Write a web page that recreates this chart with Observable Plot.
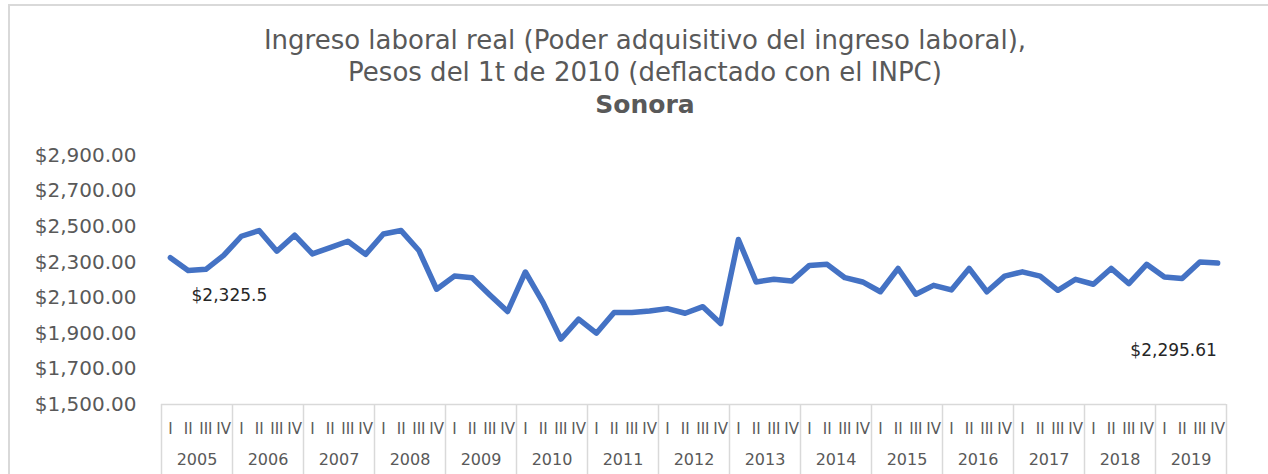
<!DOCTYPE html>
<html>
<head>
<meta charset="utf-8">
<script src="https://cdn.jsdelivr.net/npm/d3@7"></script>
<script src="https://cdn.jsdelivr.net/npm/@observablehq/plot@0.6"></script>
<style>
  html, body { margin: 0; padding: 0; background: #fff; }
  #wrap { position: relative; width: 1268px; height: 474px; overflow: hidden; font-family: "DejaVu Sans", sans-serif; }
  #frame { position: absolute; left: 8px; top: 4px; width: 1268px; height: 480px; border-left: 2px solid #d9d9d9; border-top: 2px solid #d9d9d9; box-sizing: border-box; }
  #title { position: absolute; left: 0; top: 24px; width: 1290px; text-align: center; color: #595959; font-size: 26px; line-height: 32px; }
  #title b { font-size: 25px; }
  #chart { position: absolute; left: 0; top: 0; }
</style>
</head>
<body>
<div id="wrap">
  <div id="frame"></div>
  <div id="chart"></div>
  <div id="title">Ingreso laboral real (Poder adquisitivo del ingreso laboral),<br>Pesos del 1t de 2010 (deflactado con el INPC)<br><b>Sonora</b></div>
</div>
<script>
const years = ["2005","2006","2007","2008","2009","2010","2011","2012","2013","2014","2015","2016","2017","2018","2019"];
const quarters = ["I","II","III","IV"];
const values = [
  2325.5, 2254, 2260, 2338,
  2446, 2478, 2362, 2452,
  2347, 2382, 2418, 2344,
  2459, 2478, 2366, 2148,
  2222, 2213, 2116, 2023,
  2245, 2073, 1868, 1980,
  1901, 2017, 2017, 2026,
  2039, 2013, 2050, 1955,
  2428, 2189, 2204, 2194,
  2282, 2288, 2213, 2189,
  2134, 2265, 2120, 2170,
  2144, 2265, 2134, 2222,
  2246, 2222, 2142, 2204,
  2176, 2265, 2180, 2288,
  2217, 2209, 2301, 2295.61
];
const yTicks = [1500, 1700, 1900, 2100, 2300, 2500, 2700, 2900];
const pointLabels = [
  {index: 0, text: "$2,325.5"},
  {index: 59, text: "$2,295.61"}
];

const data = values.map((v, i) => ({i, v, q: quarters[i % 4], year: years[Math.floor(i / 4)]}));
const yearPos = years.map((y, k) => ({x: k * 4 + 1.5, year: y}));
const bounds = d3.range(0, years.length + 1).map(k => k * 4 - 0.5);
const gray = "#595959";

const chart = Plot.plot({
  width: 1268,
  height: 474,
  marginLeft: 161,
  marginRight: 42,
  marginTop: 155,
  marginBottom: 70,
  style: {fontFamily: "DejaVu Sans, sans-serif", background: "transparent"},
  x: {domain: [-0.5, values.length - 0.5], axis: null},
  y: {domain: [1500, 2900], axis: null},
  marks: [
    Plot.axisY({ticks: yTicks, tickFormat: d3.format("$,.2f"), tickSize: 0, tickPadding: 25, fontSize: 20, fill: gray, label: null}),
    Plot.ruleY([1500], {stroke: "#d9d9d9", strokeWidth: 1.5}),
    Plot.ruleX(bounds, {x: d => d, y1: 1500, y2: 1100, stroke: "#d9d9d9", strokeWidth: 1.5}),
    Plot.text(data, {x: "i", text: "q", frameAnchor: "bottom", dy: 29, fontSize: 15, fill: gray}),
    Plot.text(yearPos, {x: "x", text: "year", frameAnchor: "bottom", dy: 60, fontSize: 16, fill: gray}),
    Plot.line(data, {x: "i", y: "v", stroke: "#4472C4", strokeWidth: 5.5, strokeLinejoin: "round", strokeLinecap: "round"}),
    Plot.text([pointLabels[0]], {x: d => d.index, y: d => values[d.index], text: "text", dx: 59, dy: 38, fontSize: 17, fill: "#262626"}),
    Plot.text([pointLabels[1]], {x: d => d.index, y: d => values[d.index], text: "text", dx: -44, dy: 88, fontSize: 17, fill: "#262626"})
  ]
});
document.getElementById("chart").appendChild(chart);
</script>
</body>
</html>
